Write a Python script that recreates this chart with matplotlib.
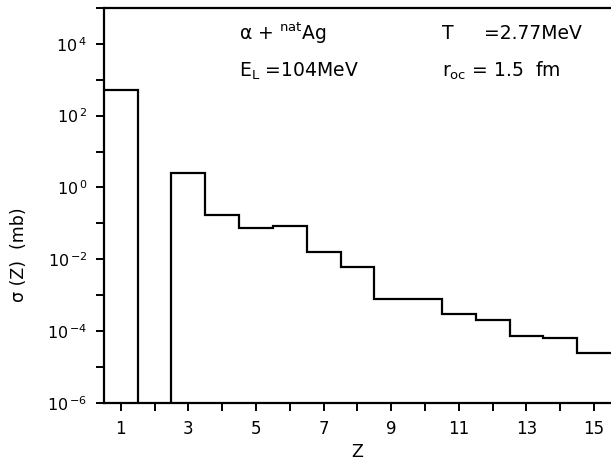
import numpy as np
import matplotlib
matplotlib.use("Agg")
import matplotlib.pyplot as plt
from matplotlib.ticker import FixedLocator, FuncFormatter

plt.rcParams["font.family"] = ["DejaVu Sans"]
plt.rcParams["mathtext.fontset"] = "dejavusans"

# Charge distribution sigma(Z) in mb; Z = 2 has no yield (below the axis floor)
z_values = np.arange(1, 16)
sigma_mb = [525.0, 1e-12, 2.6, 0.17, 0.072, 0.085, 0.0157, 0.006,
            7.8e-4, 7.8e-4, 2.9e-4, 2.1e-4, 7.4e-5, 6.4e-5, 2.5e-5]

x_ticks = list(range(1, 16))
x_tick_labels = [str(z) if z % 2 == 1 else "" for z in x_ticks]
y_decades = list(range(-6, 6))

fig = plt.figure(figsize=(6.11, 4.61), dpi=100)
ax = fig.add_axes([0.170, 0.126, 0.830, 0.857])

edges = np.concatenate([z_values - 0.5, [z_values[-1] + 0.5]])
ax.stairs(sigma_mb, edges, baseline=None, color="black", lw=1.6)

ax.set_yscale("log")
ax.set_xlim(0.5, 15.5)
ax.set_ylim(1e-6, 1e5)

ax.xaxis.set_major_locator(FixedLocator(x_ticks))
ax.set_xticklabels(x_tick_labels)
ax.yaxis.set_major_locator(FixedLocator([10.0 ** d for d in y_decades]))
ax.yaxis.set_minor_locator(FixedLocator([]))


def decade_label(v, pos):
    e = int(round(np.log10(v)))
    if e % 2 != 0 or e > 4:
        return ""
    return r"$10^{\,%s}$" % ((r"\mathrm{-}" + str(-e)) if e < 0 else str(e))


ax.yaxis.set_major_formatter(FuncFormatter(decade_label))
ax.tick_params(axis="both", which="major", direction="out", length=6,
               width=1.4, labelsize=12, pad=6)
ax.tick_params(axis="y", labelsize=11.5)

for side in ("left", "bottom", "top"):
    ax.spines[side].set_linewidth(1.6)
ax.spines["right"].set_visible(False)

ax.set_xlabel("Z", fontsize=12.5, labelpad=4)
ax.set_ylabel("σ (Z)  (mb)", fontsize=12.5)
ax.yaxis.set_label_coords(-0.150, 0.375)

txt = dict(transform=ax.transAxes, fontsize=13.5, va="center", ha="left")
ax.text(0.266, 0.935, r"α + $^{\rm nat}$Ag", **txt)
ax.text(0.266, 0.84, r"E$_{\rm L}$ =104MeV", **txt)
ax.text(0.667, 0.935, "T", **txt)
ax.text(0.749, 0.935, "=2.77MeV", **txt)
ax.text(0.667, 0.84, r"r$_{\rm oc}$ = 1.5  fm", **txt)

fig.savefig("out.png", dpi=100)
